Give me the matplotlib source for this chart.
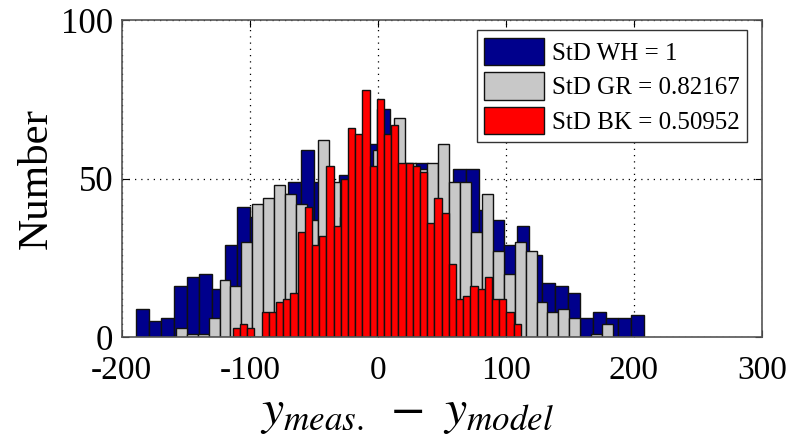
import numpy as np
import matplotlib
matplotlib.use("Agg")
import matplotlib.pyplot as plt

# counts per bin, 40 bins each
wh_counts = [9, 5, 6, 16, 19, 20, 15, 29, 41, 38,
             42, 45, 49, 59, 49, 46, 51, 55, 61, 72,
             58, 52, 55, 46, 48, 53, 53, 40, 37, 29,
             35, 26, 17, 16, 14, 6, 8, 6, 6, 7]
gr_counts = [3, 1, 1, 6, 18, 16, 30, 42, 44, 48,
             45, 42, 37, 62, 49, 38, 42, 45, 59, 54,
             69, 55, 53, 55, 61, 49, 49, 33, 45, 27,
             20, 30, 27, 11, 8, 9, 6, 0, 1, 4]
bk_counts = [3, 4, 3, 0, 8, 8, 11, 12, 14, 33,
             41, 29, 32, 54, 35, 50, 66, 64, 78, 54,
             75, 64, 67, 55, 55, 54, 52, 36, 44, 39,
             23, 12, 13, 16, 15, 19, 12, 12, 8, 4]

# bin start and bin width for each set
wh_start, wh_width = -189.0, 9.92
gr_start, gr_width = -157.8, 8.54
bk_start, bk_width = -113.3, 5.625

labels = ["StD WH = 1", "StD GR = 0.82167", "StD BK = 0.50952"]
colors = ["#00008C", "#C8C8C8", "#FF0000"]

plt.rcParams["font.family"] = ["Liberation Serif", "DejaVu Serif"]
plt.rcParams["mathtext.fontset"] = "stix"
plt.rcParams["axes.unicode_minus"] = False

fig = plt.figure(figsize=(7.96, 4.40), dpi=100)
ax = fig.add_axes([0.153, 0.234, 0.804, 0.7205])

sets = [(wh_counts, wh_start, wh_width),
        (gr_counts, gr_start, gr_width),
        (bk_counts, bk_start, bk_width)]
for (counts, start, width), col, lab in zip(sets, colors, labels):
    left = start + width * np.arange(len(counts))
    ax.bar(left, counts, width=width, align="edge", color=col,
           edgecolor="#111111", linewidth=1.0, label=lab)

ax.set_xlim(-200, 300)
ax.set_ylim(0, 100)
ax.set_xticks([-200, -100, 0, 100, 200, 300])
ax.set_yticks([0, 50, 100])
ax.set_axisbelow(True)
ax.grid(True, color="black", linestyle=(0, (1, 4)), linewidth=0.9)
ax.tick_params(direction="in", top=True, right=True, length=5,
               labelsize=25)
ax.tick_params(axis="x", pad=13, labelsize=24)
ax.tick_params(axis="y", pad=6)
for t in ax.get_yticklabels():
    t.set_va("center_baseline")
for s in ax.spines.values():
    s.set_color("#555555")
    s.set_linewidth(1.2)

ax.set_ylabel("Number", fontsize=31, labelpad=4)
fig.text(407 / 796, 4 / 440, r"$y_{meas.}\ -\ y_{model}$", fontsize=36,
         ha="center", va="bottom")

leg = ax.legend(loc="upper right", fontsize=18, handlelength=2.4,
                handleheight=1.3, handletextpad=0.3, borderpad=0.3,
                labelspacing=0.3, fancybox=False, framealpha=1,
                borderaxespad=0, bbox_to_anchor=(0.977, 0.968))
leg.get_frame().set_edgecolor("#333333")
leg.get_frame().set_linewidth(1.0)

fig.savefig("out.png", dpi=100)
